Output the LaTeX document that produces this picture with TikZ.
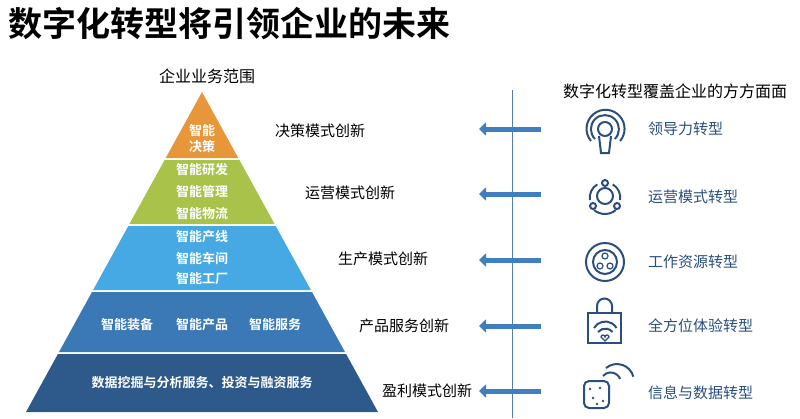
\documentclass[tikz,border=0pt]{standalone}
\usepackage{fontspec}
\setmainfont{Noto Sans CJK SC}
\newfontfamily\cjkbold{Noto Sans CJK SC Bold}
\usetikzlibrary{arrows.meta,positioning,calc}
\definecolor{layerA}{HTML}{E8963A}
\definecolor{layerB}{HTML}{A9C24A}
\definecolor{layerC}{HTML}{47A9E3}
\definecolor{layerD}{HTML}{3B78B6}
\definecolor{layerE}{HTML}{2D5A8A}
\definecolor{iconblue}{HTML}{2B4E7E}
\definecolor{arrowblue}{HTML}{3F7EBF}
\tikzset{
	% white text inside the pyramid
	layertext/.style={text=white,font=\cjkbold\fontsize{13}{13}\selectfont,inner sep=0pt},
	% labels right of the pyramid
	modetext/.style={text=black,font=\fontsize{15}{15}\selectfont,inner sep=0pt},
	% labels beside the icons
	turntext/.style={text=iconblue,font=\fontsize{15}{15}\selectfont,inner sep=0pt,anchor=west},
	icon/.style={draw=iconblue,line width=2pt},
	flowarrow/.style={-{Triangle[length=7pt,width=13pt]},line width=5pt,arrowblue},
}
\newcommand{\layer}[3]{% ytop, ybottom, colour
	\fill[#3] ({202-(#1-92)*0.55},#1) -- ({202+(#1-92)*0.55},#1) -- ({202+(#2-92)*0.55},#2) -- ({202-(#2-92)*0.55},#2) -- cycle;}
\begin{document}
\begin{tikzpicture}[x=1pt,y=-1pt]
	\useasboundingbox (0,0) rectangle (800,418);
	% title
	\node[anchor=west,font=\cjkbold\fontsize{34}{34}\selectfont,inner sep=0pt] (title) at (8,24) {数字化转型将引领企业的未来};
	\node[font=\fontsize{16}{16}\selectfont,inner sep=0pt] (scope) at (207,76) {企业业务范围};
	% pyramid
	\fill[layerA] (202,92) -- ({202-66*0.55},158) -- ({202+66*0.55},158) -- cycle;
	\layer{160}{224}{layerB}
	\layer{226}{290}{layerC}
	\layer{292}{352}{layerD}
	\layer{354}{412}{layerE}
	\node[layertext,align=center] (l1) at (202,139) {智能\\[3pt]决策};
	\node[layertext] (l2a) at (202,170) {智能研发};
	\node[layertext] (l2b) at (202,192) {智能管理};
	\node[layertext] (l2c) at (202,214) {智能物流};
	\node[layertext] (l3a) at (202,237) {智能产线};
	\node[layertext] (l3b) at (202,258) {智能车间};
	\node[layertext] (l3c) at (202,279) {智能工厂};
	\node[layertext] (l4a) at (127,325) {智能装备};
	\node[layertext] (l4b) at (202,325) {智能产品};
	\node[layertext] (l4c) at (275,325) {智能服务};
	\node[layertext] (l5) at (202,383) {数据挖掘与分析服务、投资与融资服务};
	% modes
	\node[modetext] (m1) at (320,131) {决策模式创新};
	\node[modetext] (m2) at (350,193) {运营模式创新};
	\node[modetext] (m3) at (383,259) {生产模式创新};
	\node[modetext] (m4) at (404,326) {产品服务创新};
	\node[modetext] (m5) at (427,391) {盈利模式创新};
	% divider
	\coordinate (dtop) at (512,90);
	\coordinate (dbot) at (512,418);
	\draw[arrowblue!70!gray,line width=0.8pt] (dtop) -- (dbot);
	\foreach \y/\n in {129/1,194/2,260/3,326/4,391/5}{
		\coordinate (s\n) at (541,\y);
		\coordinate (e\n) at (479,\y);
		\draw[flowarrow] (s\n) -- (e\n);
	}
	\node[font=\fontsize{16}{16}\selectfont,inner sep=0pt] (cover) at (675,91) {数字化转型覆盖企业的方方面面};
	% icons
	\draw[icon] (605,129) circle (7);
	\draw[icon] (599,136) -- (601,153) -- (609,153) -- (611,136);
	\draw[icon] (595,139) arc (-225:45:14);
	\draw[icon] (591,141) arc (-220:40:19);
	\draw[icon] (605,196) circle (8);
	\draw[icon] (605,183) circle (3) (593,206) circle (3) (617,206) circle (3);
	\draw[icon] (590,200) arc (-190:-120:15) (620,200) arc (10:-60:15);
	\draw[icon] (594,210) arc (-230:-310:17);
	\draw[icon] (605,262) circle (19);
	\draw[icon] (605,262) circle (12);
	\draw[icon,line width=1.2pt] (605,256) circle (3) (600,266) circle (3) (610,266) circle (3);
	\draw[icon] (588,313) rectangle (621,343);
	\draw[icon] (597,313) -- (597,306) arc (-180:0:7.5) -- (612,313);
	\draw[icon] (594,328) arc (-150:-30:13) (598,332) arc (-140:-40:9.5);
	\draw[icon,line width=1.3pt] (605,341) -- (601,337) arc (-180:0:2) arc (-180:0:2) -- cycle;
	\draw[icon,rounded corners=5pt] (584,381) rectangle (609,408);
	\foreach \p in {(590,389),(600,388),(593,398),(603,401),(597,404)}
		\fill[iconblue] \p circle (1.3);
	\draw[icon] (603,376) arc (-140:-20:10) (606,368) arc (-130:-15:17);
	\node[turntext] (t1) at (648,129) {领导力转型};
	\node[turntext] (t2) at (648,197) {运营模式转型};
	\node[turntext] (t3) at (648,262) {工作资源转型};
	\node[turntext] (t4) at (648,326) {全方位体验转型};
	\node[turntext] (t5) at (648,393) {信息与数据转型};
\end{tikzpicture}
\end{document}
